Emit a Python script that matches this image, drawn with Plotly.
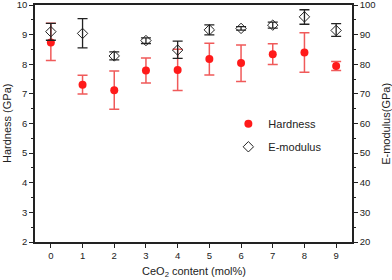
import plotly.graph_objects as go

x = [0, 1, 2, 3, 4, 5, 6, 7, 8, 9]
hardness = [8.73, 7.31, 7.12, 7.79, 7.81, 8.18, 8.04, 8.34, 8.40, 7.94]
hard_hi = [9.38, 7.63, 7.77, 8.21, 8.51, 8.71, 8.65, 8.69, 9.06, 8.09]
hard_lo = [8.13, 7.00, 6.48, 7.37, 7.11, 7.64, 7.42, 7.99, 7.73, 7.79]
emod = [91.0, 90.4, 82.8, 88.0, 84.8, 91.6, 92.1, 93.2, 96.0, 91.4]
emod_hi = [93.8, 95.4, 84.2, 88.9, 87.8, 93.3, 92.7, 94.2, 98.4, 93.7]
emod_lo = [88.1, 85.5, 81.5, 87.0, 82.0, 89.9, 91.5, 92.2, 93.5, 89.4]

FONT = "Liberation Sans, Arial, sans-serif"

fig = go.Figure()
fig.add_trace(go.Scatter(
    x=x, y=hardness, mode="markers", name="Hardness", legendgroup="a",
    marker=dict(symbol="circle", size=8, color="#ff1a1a"),
    error_y=dict(type="data", symmetric=False,
                 array=[h - c for h, c in zip(hard_hi, hardness)],
                 arrayminus=[c - l for c, l in zip(hardness, hard_lo)],
                 color="#f05a5a", thickness=1.5, width=5),
))
fig.add_trace(go.Scatter(
    x=x, y=emod, mode="markers", name="E-modulus", yaxis="y2", legendgroup="b",
    marker=dict(symbol="diamond-open", size=8, color="#222222", line=dict(width=1)),
    error_y=dict(type="data", symmetric=False,
                 array=[h - c for h, c in zip(emod_hi, emod)],
                 arrayminus=[c - l for c, l in zip(emod, emod_lo)],
                 color="#222222", thickness=1.3, width=5),
))

axis_common = dict(showline=True, linecolor="#222222", linewidth=1.5,
                   ticks="outside", tickcolor="#222222", ticklen=4, tickwidth=1.2,
                   showgrid=False, zeroline=False, ticklabeloverflow="allow",
                   tickfont=dict(family=FONT, size=9.5, color="#222222"))

fig.update_layout(
    width=392, height=280,
    margin=dict(l=35, r=40, t=5, b=38, autoexpand=False),
    paper_bgcolor="white", plot_bgcolor="white",
    font=dict(family=FONT, size=11, color="#222222"),
    showlegend=True,
    legend=dict(x=0.61, y=0.56, xanchor="left", yanchor="top",
                bgcolor="rgba(0,0,0,0)", tracegroupgap=4,
                font=dict(family=FONT, size=11, color="#222222")),
    xaxis=dict(range=[-0.5, 9.5], tickvals=x, mirror=True, **axis_common),
    yaxis=dict(range=[2, 10], dtick=1,
               minor=dict(ticks="outside", ticklen=2, dtick=0.5, tickcolor="#222222"),
               **axis_common),
    yaxis2=dict(range=[20, 100], dtick=10, overlaying="y", side="right",
                minor=dict(ticks="outside", ticklen=2, dtick=5, tickcolor="#222222"),
                **axis_common),
    annotations=[
        dict(text="CeO<sub>2</sub> content (mol%)", xref="paper", yref="paper",
             x=0.5, y=-0.09, xanchor="center", yanchor="top", showarrow=False,
             font=dict(family=FONT, size=11, color="#222222")),
        dict(text="Hardness (GPa)", xref="paper", yref="paper",
             x=-0.115, y=0.5, xanchor="left", yanchor="middle", showarrow=False,
             textangle=-90, font=dict(family=FONT, size=11, color="#222222")),
        dict(text="E-modulus(GPa)", xref="paper", yref="paper",
             x=1.08, y=0.5, xanchor="left", yanchor="middle", showarrow=False,
             textangle=-90, font=dict(family=FONT, size=11, color="#222222")),
    ],
)

fig.write_html("out.html", config={"displayModeBar": False},
               post_script="document.body.style.margin='0';")
